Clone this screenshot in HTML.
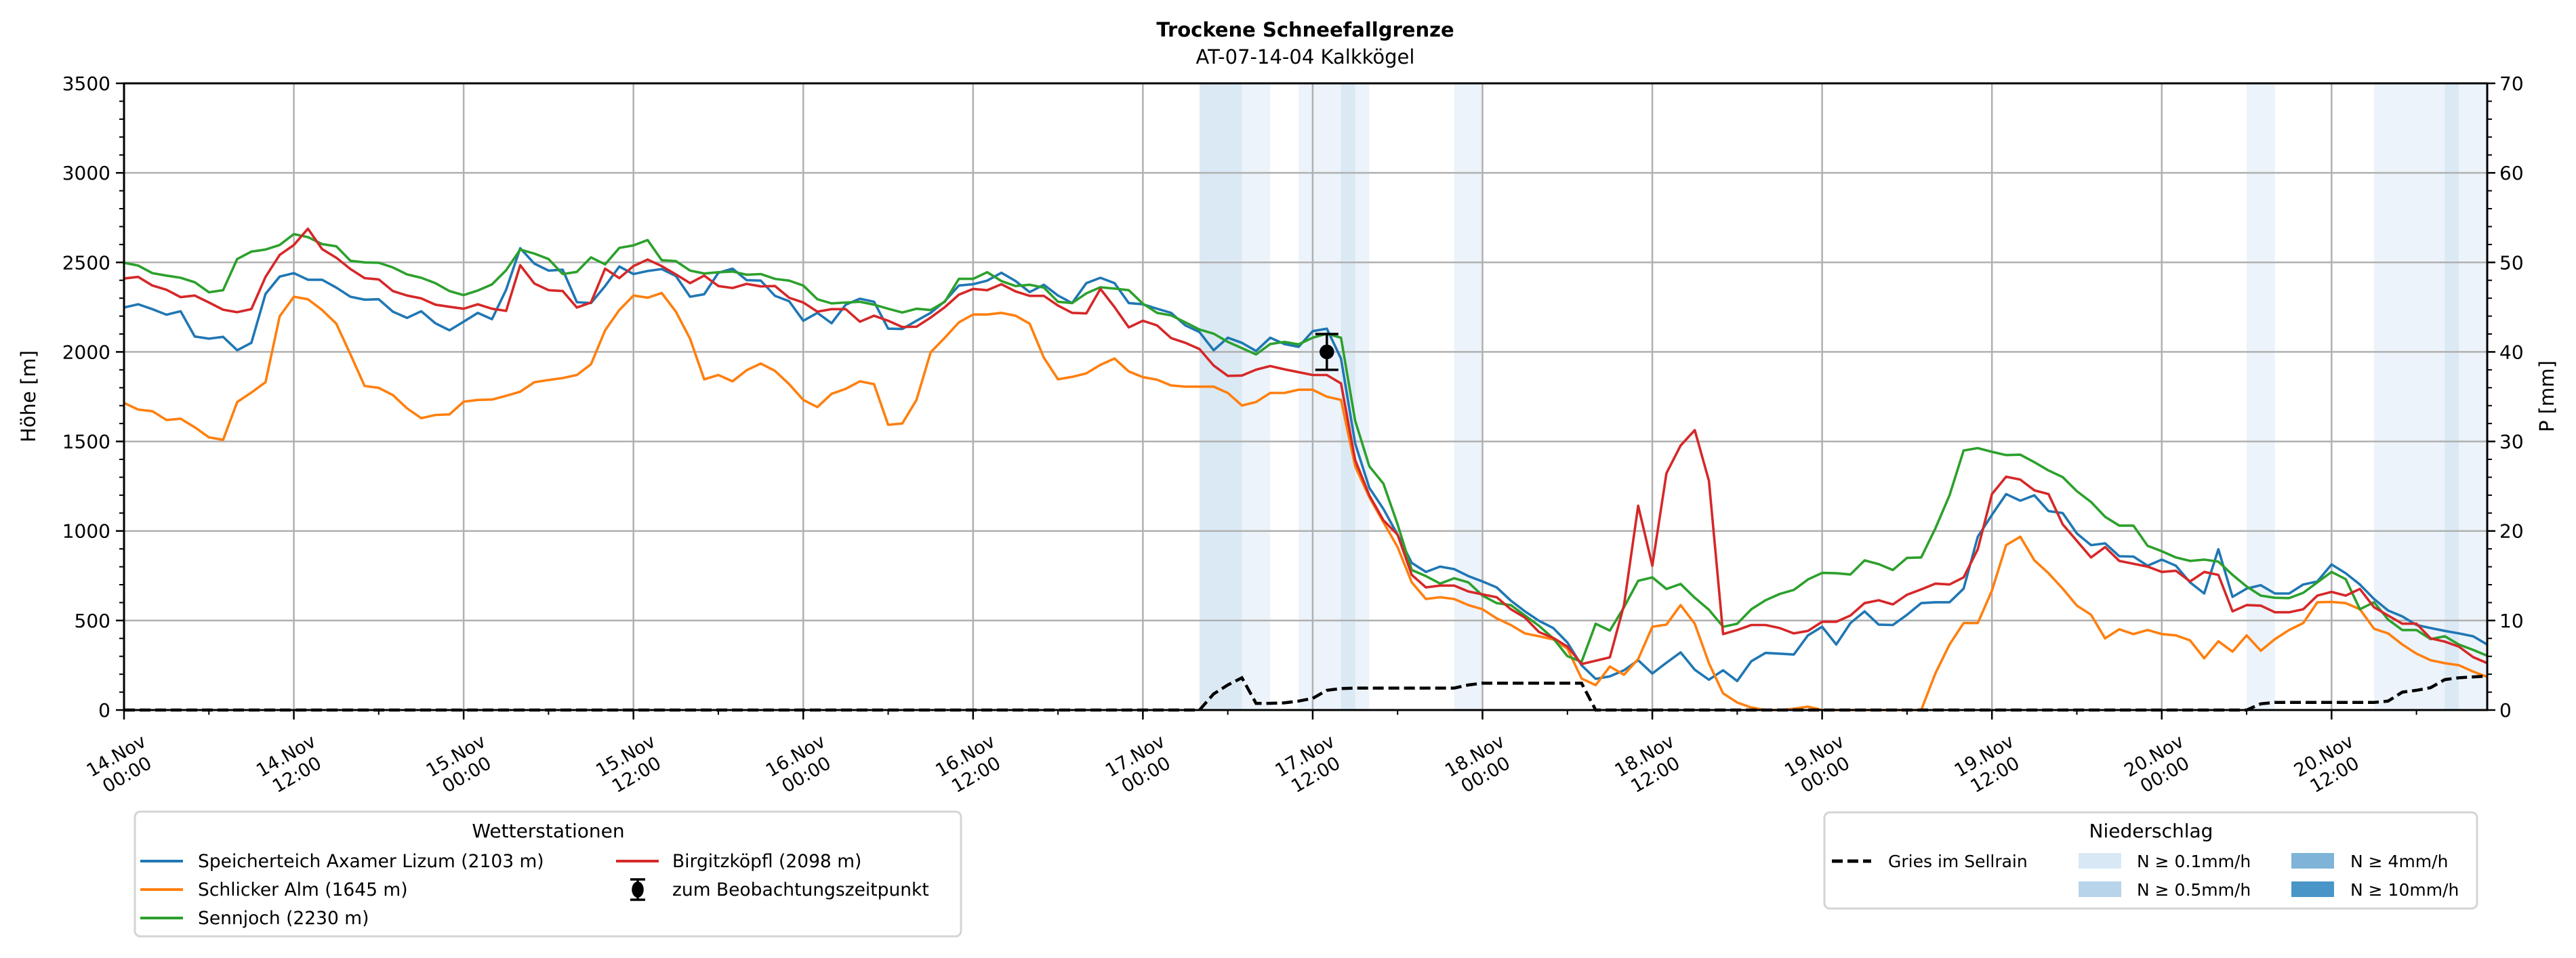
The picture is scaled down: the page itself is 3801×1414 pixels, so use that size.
<!DOCTYPE html>
<html><head><meta charset="utf-8">
<style>
html,body{margin:0;padding:0;background:#fff;}
svg{display:block;font-family:"DejaVu Sans","Liberation Sans",sans-serif;}
</style></head>
<body>
<svg id="chart" width="3801" height="1414" viewBox="0 0 3801 1414" xmlns="http://www.w3.org/2000/svg">
<rect x="0" y="0" width="3801" height="1414" fill="#fff"/>
<text x="1926" y="54" text-anchor="middle" font-size="29" font-weight="bold" fill="#000">Trockene Schneefallgrenze</text>
<text x="1926" y="94" text-anchor="middle" font-size="29" fill="#000">AT-07-14-04 Kalkkögel</text>
<g id="bands"></g>
<g id="grid"></g>
<g id="series"></g>
<g id="axes"></g>
<text transform="translate(52,585) rotate(-90)" text-anchor="middle" font-size="29">Höhe [m]</text>
<text transform="translate(3768,585) rotate(-90)" text-anchor="middle" font-size="29">P [mm]</text>

<g>
<rect x="199" y="1198" width="1219" height="184" rx="8" fill="#fff" stroke="#d4d4d4" stroke-width="3"/>
<text x="809" y="1236" text-anchor="middle" font-size="28">Wetterstationen</text>
<line x1="207" y1="1271" x2="270" y2="1271" stroke="#1f77b4" stroke-width="4"/>
<text x="292" y="1280" font-size="26.5">Speicherteich Axamer Lizum (2103 m)</text>
<line x1="207" y1="1313" x2="270" y2="1313" stroke="#ff7f0e" stroke-width="4"/>
<text x="292" y="1322" font-size="26.5">Schlicker Alm (1645 m)</text>
<line x1="207" y1="1355" x2="270" y2="1355" stroke="#2ca02c" stroke-width="4"/>
<text x="292" y="1364" font-size="26.5">Sennjoch (2230 m)</text>
<line x1="909" y1="1271" x2="972" y2="1271" stroke="#d62728" stroke-width="4"/>
<text x="992" y="1280" font-size="26.5">Birgitzköpfl (2098 m)</text>
<g stroke="#000" stroke-width="3.5">
<line x1="941" y1="1298" x2="941" y2="1328"/><line x1="930" y1="1298" x2="952" y2="1298"/><line x1="930" y1="1328" x2="952" y2="1328"/>
<ellipse cx="941" cy="1313" rx="7" ry="10" fill="#000"/></g>
<text x="992" y="1322" font-size="26.5">zum Beobachtungszeitpunkt</text>
</g>

<g>
<rect x="2692" y="1199" width="963" height="142" rx="8" fill="#fff" stroke="#d4d4d4" stroke-width="3"/>
<text x="3174" y="1236" text-anchor="middle" font-size="28">Niederschlag</text>
<line x1="2703" y1="1271" x2="2761" y2="1271" stroke="#000" stroke-width="5" stroke-dasharray="16,7"/>
<text x="2786" y="1280" font-size="25">Gries im Sellrain</text>
<rect x="3067" y="1259" width="63" height="23" fill="#d9e8f5"/>
<text x="3153" y="1280" font-size="25">N ≥ 0.1mm/h</text>
<rect x="3067" y="1301" width="63" height="23" fill="#b8d4ea"/>
<text x="3153" y="1322" font-size="25">N ≥ 0.5mm/h</text>
<rect x="3381" y="1259" width="63" height="23" fill="#7fb4d8"/>
<text x="3468" y="1280" font-size="25">N ≥ 4mm/h</text>
<rect x="3381" y="1301" width="63" height="23" fill="#4a95c8"/>
<text x="3468" y="1322" font-size="25">N ≥ 10mm/h</text>
</g>
</svg>
<script>
const xTickLabels = ["14.Nov|00:00","14.Nov|12:00","15.Nov|00:00","15.Nov|12:00","16.Nov|00:00","16.Nov|12:00","17.Nov|00:00","17.Nov|12:00","18.Nov|00:00","18.Nov|12:00","19.Nov|00:00","19.Nov|12:00","20.Nov|00:00","20.Nov|12:00"];
const yTicks = [0,500,1000,1500,2000,2500,3000,3500];
const y2Ticks = [0,10,20,30,40,50,60,70];
const speicherteich = [2248,2266,2239,2208,2227,2086,2074,2084,2009,2051,2324,2421,2440,2403,2403,2359,2308,2292,2294,2225,2190,2227,2160,2121,2169,2218,2183,2347,2579,2493,2454,2459,2278,2273,2368,2477,2435,2452,2463,2424,2308,2322,2442,
2465,2401,2398,2313,2283,2174,2218,2160,2264,2297,2280,2130,2128,2174,2218,2283,2371,2378,2398,2442,2396,2334,2375,2315,2273,2384,2414,2384,2273,2266,2241,2218,2148,2111,2009,2079,2051,2005,2079,2044,2028,2116,2130,
1963,1489,1241,1123,979,822,771,801,787,748,718,685,611,551,498,458,377,250,174,188,222,278,204,264,322,225,169,222,162,273,319,315,310,417,465,366,486,551,477,475,532,597,602,
602,678,968,1090,1206,1169,1199,1111,1100,986,921,931,859,857,806,840,806,713,651,898,632,678,697,651,651,701,718,813,764,701,620,556,523,475,458,442,428,412,366];
const schlicker = [1715,1678,1669,1620,1627,1579,1523,1509,1720,1773,1831,2199,2308,2294,2234,2158,1986,1810,1799,1759,1685,1630,1648,1651,1722,1732,1734,1755,1778,1831,1843,1854,1871,1931,2121,2234,2315,2303,2329,2225,2074,1847,1871,
1836,1898,1935,1894,1820,1732,1692,1766,1794,1836,1820,1593,1600,1732,1998,2079,2165,2209,2209,2218,2202,2158,1968,1847,1861,1880,1928,1963,1891,1859,1845,1813,1806,1806,1806,1771,1701,1720,1771,1771,1789,1789,1750,
1732,1361,1188,1049,910,713,620,630,620,586,563,512,475,428,412,394,343,176,139,243,197,285,465,477,586,482,262,93,42,14,0,0,7,19,0,0,0,0,0,0,0,0,204,
366,486,486,667,921,968,836,764,678,583,532,400,451,424,447,424,417,389,289,384,326,417,331,396,447,486,602,604,597,563,454,428,366,315,278,262,250,215,185];
const sennjoch = [2498,2482,2440,2426,2414,2389,2333,2345,2519,2560,2572,2597,2658,2641,2602,2590,2509,2500,2498,2472,2433,2414,2384,2340,2317,2343,2377,2456,2572,2549,2519,2435,2447,2528,2489,2581,2595,2625,2512,2507,2454,2438,2445,
2449,2431,2435,2408,2398,2371,2294,2271,2276,2280,2264,2241,2220,2241,2234,2280,2408,2408,2445,2396,2368,2375,2359,2280,2273,2327,2361,2354,2345,2269,2218,2204,2165,2125,2102,2056,2021,1986,2044,2056,2042,2079,2102,
2079,1616,1361,1264,1037,782,748,706,736,713,639,597,586,528,470,400,301,269,482,444,574,722,741,676,704,627,560,465,482,563,613,648,671,729,766,764,757,836,815,782,850,852,1014,
1199,1449,1463,1442,1424,1426,1384,1338,1301,1222,1162,1079,1030,1030,917,887,852,833,840,829,755,690,639,627,625,655,713,771,731,563,602,505,447,447,396,412,366,336,303];
const birgitz = [2410,2419,2371,2347,2306,2315,2276,2236,2222,2239,2419,2542,2597,2688,2574,2526,2463,2412,2405,2340,2315,2299,2264,2252,2241,2266,2241,2229,2484,2382,2345,2340,2248,2276,2465,2412,2479,2516,2479,2433,2384,2426,2368,
2357,2380,2366,2368,2303,2276,2225,2239,2239,2169,2202,2174,2139,2141,2192,2250,2320,2352,2345,2378,2338,2313,2313,2259,2218,2215,2352,2250,2137,2174,2148,2077,2051,2016,1924,1866,1868,1901,1921,1903,1887,1871,1871,
1824,1396,1199,1060,979,755,685,695,695,662,646,630,563,516,435,403,354,257,275,294,586,1141,806,1322,1477,1563,1280,424,447,475,475,458,428,442,493,493,528,597,613,590,644,674,706,
701,741,898,1206,1303,1287,1227,1206,1037,945,852,910,833,817,801,771,778,718,771,755,551,586,583,546,546,563,639,660,639,676,574,528,482,482,400,382,354,296,262];
const griesPrecip = [0,0,0,0,0,0,0,0,0,0,0,0,0,0,0,0,0,0,0,0,0,0,0,0,0,0,0,0,0,0,0,0,0,0,0,0,0,0,0,0,0,0,0,0,0,0,0,0,0,0,0,0,0,0,0,0,0,0,0,0,0,0,0,0,0,0,0,0,0,0,0,0,0,0,0,0,0,
1.8,2.8,3.6,0.74,0.75,0.8,1.0,1.3,2.2,2.4,2.45,2.45,2.45,2.45,2.45,2.45,2.45,2.45,2.8,3.0,3.0,3.0,3.0,3.0,3.0,3.0,3.0,
0,0,0,0,0,0,0,0,0,0,0,0,0,0,0,0,0,0,0,0,0,0,0,0,0,0,0,0,0,0,0,0,0,0,0,0,0,0,0,0,0,0,0,0,0,0,0,
0.7,0.85,0.85,0.85,0.85,0.85,0.85,0.85,0.85,1.0,2.0,2.2,2.5,3.4,3.6,3.7,3.8];
const bandStart = [76,79,83,86,87,94,150,159,164,165];
const bandEnd   = [79,81,86,87,88,96,152,164,165,167];
const bandLevel = [2,1,1,2,1,1,1,1,2,1];
const obsHour = [85];
const obsValue = [2000];
const obsErr = [100];

const NS="http://www.w3.org/2000/svg";
const L=183,R=3670,T=123,B=1048,HMAX=167,YMAX=3500,PMAX=70;
const X=h=>L+h*(R-L)/HMAX;
const Y=v=>B-v*(B-T)/YMAX;
const YP=p=>B-p*(B-T)/PMAX;
function mk(tag,attrs,parent){const e=document.createElementNS(NS,tag);for(const k in attrs)e.setAttribute(k,attrs[k]);parent.appendChild(e);return e;}
const gB=document.getElementById('bands'),gG=document.getElementById('grid'),gS=document.getElementById('series'),gA=document.getElementById('axes');
const bandColors=["","#d9e8f5","#b8d4ea","#7fb4d8","#4a95c8"];
for(let i=0;i<bandStart.length;i++){
  const r=mk('rect',{x:X(bandStart[i]),y:T,width:X(bandEnd[i])-X(bandStart[i]),height:B-T,fill:bandColors[bandLevel[i]],'fill-opacity':0.5},gB);
  
  
}
xTickLabels.forEach((lab,i)=>{
  const x=X(i*12);
  const l=mk('line',{x1:x,y1:T,x2:x,y2:B,stroke:"#b0b0b0","stroke-width":2.5},gG);
  
  
});
yTicks.forEach(v=>{
  if(v===0||v===YMAX)return;
  const l=mk('line',{x1:L,y1:Y(v),x2:R,y2:Y(v),stroke:"#b0b0b0","stroke-width":2.5},gG);
  
  
});
function line(arr,color,name){
  const d=arr.map((v,i)=>(i?'L':'M')+X(i).toFixed(1)+' '+Y(v).toFixed(1)).join(' ');
  const p=mk('path',{d:d,fill:'none',stroke:color,'stroke-width':3.6,'stroke-linejoin':'round'},gS);
  
  
}
line(speicherteich,'#1f77b4','series-speicherteich');
line(schlicker,'#ff7f0e','series-schlicker');
line(sennjoch,'#2ca02c','series-sennjoch');
line(birgitz,'#d62728','series-birgitzkoepfl');
{
  const d=griesPrecip.map((v,i)=>(i?'L':'M')+X(i).toFixed(1)+' '+YP(v).toFixed(1)).join(' ');
  const p=mk('path',{d:d,fill:'none',stroke:'#000','stroke-width':4.5,'stroke-dasharray':'16,7'},gS);
  
  
}
obsHour.forEach((h,i)=>{
  const g=mk('g',{stroke:'#000','stroke-width':3.5},gS);
  
  
  const x=X(h),y1=Y(obsValue[i]+obsErr[i]),y2=Y(obsValue[i]-obsErr[i]);
  mk('line',{x1:x,y1:y1,x2:x,y2:y2},g);
  mk('line',{x1:x-17,y1:y1,x2:x+17,y2:y1},g);
  mk('line',{x1:x-17,y1:y2,x2:x+17,y2:y2},g);
  mk('circle',{cx:x,cy:Y(obsValue[i]),r:9,fill:'#000'},g);
});
const fr=mk('rect',{x:L,y:T,width:R-L,height:B-T,fill:'none',stroke:'#000','stroke-width':3},gA);


yTicks.forEach(v=>{
  mk('line',{x1:L-12,y1:Y(v),x2:L,y2:Y(v),stroke:'#000','stroke-width':2.5},gA);
  const t=mk('text',{x:L-20,y:Y(v)+10,'text-anchor':'end','font-size':28},gA);
  t.textContent=v;
  
  
});
for(let v=0;v<=YMAX;v+=100){if(v%500)mk('line',{x1:L-7,y1:Y(v),x2:L,y2:Y(v),stroke:'#000','stroke-width':2},gA);}
y2Ticks.forEach(v=>{
  mk('line',{x1:R,y1:YP(v),x2:R+12,y2:YP(v),stroke:'#000','stroke-width':2.5},gA);
  const t=mk('text',{x:R+18,y:YP(v)+10,'text-anchor':'start','font-size':28},gA);
  t.textContent=v;
  
  
});
for(let v=0;v<=PMAX;v+=2){if(v%10)mk('line',{x1:R,y1:YP(v),x2:R+7,y2:YP(v),stroke:'#000','stroke-width':2},gA);}
for(let h=0;h<=HMAX;h+=6){const major=h%12===0;mk('line',{x1:X(h),y1:B,x2:X(h),y2:B+(major?14:7),stroke:'#000','stroke-width':major?2.5:2},gA);}
xTickLabels.forEach((lab,i)=>{
  const x=X(i*12)-5,y=1127;
  const parts=lab.split('|');
  const t=mk('text',{transform:`translate(${x},${y}) rotate(-30)`,'text-anchor':'middle','font-size':27},gA);
  
  
  mk('tspan',{x:0,y:-4},t).textContent=parts[0];
  mk('tspan',{x:0,y:28},t).textContent=parts[1];
});
</script>
</body></html>
